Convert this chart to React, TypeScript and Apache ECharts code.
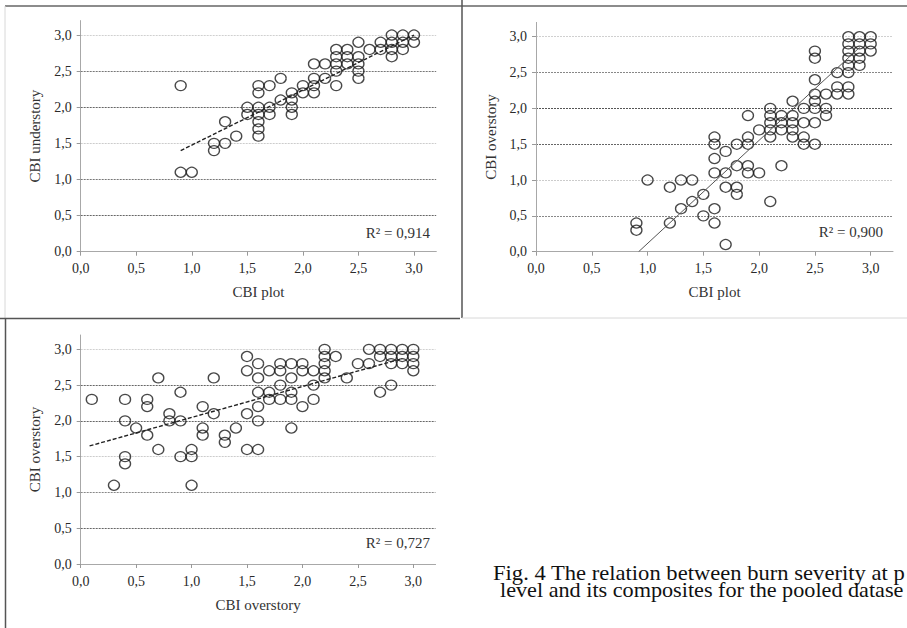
import { useEffect, useRef } from "react";
import * as echarts from "echarts";

const TICKS = [0, 0.5, 1, 1.5, 2, 2.5, 3];
const AXIS_MAX = 3.2;

// Panel 1: CBI plot (x) vs CBI understory (y)
const plotVsUnderstory: number[][] = [
  [0.9, 2.3], [0.9, 1.1], [1.0, 1.1], [1.2, 1.5], [1.2, 1.4], [1.3, 1.8], [1.3, 1.5], [1.4, 1.6],
  [1.5, 2.0], [1.5, 1.9], [1.6, 2.3], [1.6, 2.2], [1.6, 2.0], [1.6, 1.9], [1.6, 1.8], [1.6, 1.7],
  [1.6, 1.6], [1.7, 2.3], [1.7, 2.0], [1.7, 1.9], [1.8, 2.4], [1.8, 2.1], [1.9, 2.2], [1.9, 2.1],
  [1.9, 2.0], [1.9, 1.9], [2.0, 2.3], [2.0, 2.2], [2.1, 2.6], [2.1, 2.4], [2.1, 2.3], [2.1, 2.2],
  [2.2, 2.6], [2.2, 2.4], [2.3, 2.8], [2.3, 2.7], [2.3, 2.6], [2.3, 2.5], [2.3, 2.3], [2.4, 2.8],
  [2.4, 2.7], [2.4, 2.6], [2.5, 2.9], [2.5, 2.7], [2.5, 2.6], [2.5, 2.5], [2.5, 2.4], [2.6, 2.8],
  [2.7, 2.9], [2.7, 2.8], [2.8, 3.0], [2.8, 2.9], [2.8, 2.8], [2.8, 2.7], [2.9, 3.0], [2.9, 2.9],
  [2.9, 2.8], [3.0, 3.0], [3.0, 2.9],
];
const trendUnderstory: number[][] = [[0.9, 1.4], [3.0, 3.0]];

// Panel 2: CBI plot (x) vs CBI overstory (y)
const plotVsOverstory: number[][] = [
  [0.9, 0.4], [0.9, 0.3], [1.0, 1.0], [1.2, 0.9], [1.2, 0.4], [1.3, 1.0], [1.3, 0.6], [1.4, 1.0],
  [1.4, 0.7], [1.5, 0.8], [1.5, 0.5], [1.6, 1.6], [1.6, 1.5], [1.6, 1.3], [1.6, 1.1], [1.6, 0.6],
  [1.6, 0.4], [1.7, 1.4], [1.7, 1.1], [1.7, 0.9], [1.7, 0.1], [1.8, 1.5], [1.8, 1.2], [1.8, 0.9],
  [1.8, 0.8], [1.9, 1.9], [1.9, 1.6], [1.9, 1.5], [1.9, 1.2], [1.9, 1.1], [2.0, 1.7], [2.0, 1.1],
  [2.1, 2.0], [2.1, 1.9], [2.1, 1.8], [2.1, 1.7], [2.1, 1.6], [2.1, 0.7], [2.2, 1.9], [2.2, 1.8],
  [2.2, 1.7], [2.2, 1.2], [2.3, 2.1], [2.3, 1.9], [2.3, 1.8], [2.3, 1.7], [2.3, 1.6], [2.4, 2.0],
  [2.4, 1.8], [2.4, 1.6], [2.4, 1.5], [2.5, 2.8], [2.5, 2.7], [2.5, 2.4], [2.5, 2.2], [2.5, 2.1],
  [2.5, 2.0], [2.5, 1.8], [2.5, 1.5], [2.6, 2.2], [2.6, 2.0], [2.6, 1.9], [2.7, 2.5], [2.7, 2.3],
  [2.7, 2.2], [2.8, 3.0], [2.8, 2.9], [2.8, 2.8], [2.8, 2.7], [2.8, 2.6], [2.8, 2.5], [2.8, 2.3],
  [2.8, 2.2], [2.9, 3.0], [2.9, 2.9], [2.9, 2.8], [2.9, 2.7], [2.9, 2.6], [3.0, 3.0], [3.0, 2.9],
  [3.0, 2.8],
];
const trendOverstory: number[][] = [[0.92, 0.0], [2.9, 2.85]];

// Panel 3: CBI overstory (x) vs CBI overstory (y)
const overstoryVsOverstory: number[][] = [
  [0.1, 2.3], [0.3, 1.1], [0.4, 2.3], [0.4, 2.0], [0.4, 1.5], [0.4, 1.4], [0.5, 1.9], [0.6, 2.3],
  [0.6, 2.2], [0.6, 1.8], [0.7, 2.6], [0.7, 1.6], [0.8, 2.1], [0.8, 2.0], [0.9, 2.4], [0.9, 2.0],
  [0.9, 1.5], [1.0, 1.6], [1.0, 1.5], [1.0, 1.1], [1.1, 2.2], [1.1, 1.9], [1.1, 1.8], [1.2, 2.6],
  [1.2, 2.1], [1.3, 1.8], [1.3, 1.7], [1.4, 1.9], [1.5, 2.9], [1.5, 2.7], [1.5, 2.1], [1.5, 1.6],
  [1.6, 2.8], [1.6, 2.6], [1.6, 2.4], [1.6, 2.2], [1.6, 2.0], [1.6, 1.6], [1.7, 2.7], [1.7, 2.4],
  [1.7, 2.3], [1.8, 2.8], [1.8, 2.7], [1.8, 2.5], [1.8, 2.3], [1.9, 2.8], [1.9, 2.6], [1.9, 2.4],
  [1.9, 2.3], [1.9, 1.9], [2.0, 2.8], [2.0, 2.7], [2.0, 2.2], [2.1, 2.7], [2.1, 2.5], [2.1, 2.3],
  [2.2, 3.0], [2.2, 2.9], [2.2, 2.8], [2.2, 2.7], [2.2, 2.6], [2.3, 2.9], [2.4, 2.6], [2.5, 2.8],
  [2.6, 3.0], [2.6, 2.8], [2.7, 3.0], [2.7, 2.9], [2.7, 2.4], [2.8, 3.0], [2.8, 2.9], [2.8, 2.8],
  [2.8, 2.5], [2.9, 3.0], [2.9, 2.9], [2.9, 2.8], [3.0, 3.0], [3.0, 2.9], [3.0, 2.8], [3.0, 2.7],
];
const trendOverOver: number[][] = [[0.08, 1.65], [2.9, 2.87]];

const X_TITLES = ["CBI plot", "CBI plot", "CBI overstory"];
const Y_TITLES = ["CBI understory", "CBI overstory", "CBI overstory"];
const R2_LABELS = ["R² = 0,914", "R² = 0,900", "R² = 0,727"];
const CAPTION = [
  "Fig. 4 The relation between burn severity at p",
  "level and its composites for the pooled datase",
];

const SERIF = "'Liberation Serif', 'Times New Roman', serif";
const fmt = (v: number) => v.toFixed(1).replace(".", ",");

const GRIDS = [
  { left: 80.7, top: 20.6, width: 355.5, height: 231.1 },
  { left: 536, top: 22.4, width: 357, height: 229.3 },
  { left: 80.7, top: 335, width: 354.8, height: 229 },
];
const SPLIT_COLORS = [
  ["#777", "#666", "#777", "#ccc", "#666", "#777", "#d0d0d0"],
  ["#777", "#888", "#ccc", "#666", "#555", "#888", "#d0d0d0"],
  ["#777", "#666", "#888", "#ccc", "#666", "#666", "#d0d0d0"],
];
const R2_POS = [
  [430, 233],
  [883, 232],
  [430, 543],
];

export default function App() {
  const ref = useRef<HTMLDivElement>(null);
  useEffect(() => {
    if (!ref.current) return;
    const chart = echarts.init(ref.current, null, { renderer: "svg" });
    const xAxes = X_TITLES.map((name, i) => ({
      type: "value",
      gridIndex: i,
      min: 0,
      max: AXIS_MAX,
      interval: 0.5,
      name,
      nameLocation: "middle",
      nameGap: 33,
      nameTextStyle: { fontFamily: SERIF, fontSize: 15, color: "#333" },
      axisLine: { lineStyle: { color: "#a8a8a8", width: 1 } },
      axisTick: { show: true, length: 4, customValues: TICKS, lineStyle: { color: "#999" } },
      axisLabel: {
        customValues: TICKS,
        formatter: fmt,
        fontFamily: SERIF,
        fontSize: 14,
        color: "#2a2a2a",
        margin: 10,
      },
      splitLine: { show: false },
    }));
    const yAxes = Y_TITLES.map((name, i) => ({
      type: "value",
      gridIndex: i,
      min: 0,
      max: AXIS_MAX,
      interval: 0.5,
      name,
      nameLocation: "middle",
      nameGap: 38,
      nameTextStyle: { fontFamily: SERIF, fontSize: 15, color: "#333" },
      axisLine: { show: true, lineStyle: { color: "#a8a8a8", width: 1 } },
      axisTick: { show: true, length: 4, customValues: TICKS, lineStyle: { color: "#999" } },
      axisLabel: {
        customValues: TICKS,
        formatter: fmt,
        fontFamily: SERIF,
        fontSize: 14,
        color: "#2a2a2a",
        margin: 9,
      },
      splitLine: {
        show: true,
        lineStyle: { color: SPLIT_COLORS[i], type: [2, 1], width: 1 },
      },
    }));
    const scatter = (data: number[][], i: number) => ({
      type: "scatter",
      xAxisIndex: i,
      yAxisIndex: i,
      data,
      symbol: "circle",
      symbolSize: [11, 10],
      itemStyle: { color: "rgba(0,0,0,0)", borderColor: "#1a1a1a", borderWidth: 1.3 },
      z: 3,
    });
    const trend = (data: number[][], i: number, dashed: boolean) => ({
      type: "line",
      xAxisIndex: i,
      yAxisIndex: i,
      data,
      showSymbol: false,
      symbol: "none",
      lineStyle: {
        color: dashed ? "#222" : "#555",
        width: dashed ? 1.4 : 1,
        type: dashed ? [4, 2] : "solid",
      },
      z: 4,
    });
    const borders = [
      { x1: 5, y1: 6, x2: 907, y2: 6, c: "#666", w: 1.5 },
      { x1: 5, y1: 6, x2: 5, y2: 318, c: "#d8d8d8", w: 1 },
      { x1: 462, y1: 0, x2: 462, y2: 318, c: "#555", w: 1.5 },
      { x1: 0, y1: 318.5, x2: 460, y2: 318.5, c: "#555", w: 1.5 },
      { x1: 462, y1: 318, x2: 907, y2: 318, c: "#d8d8d8", w: 1 },
      { x1: 5.5, y1: 318, x2: 5.5, y2: 628, c: "#555", w: 1.5 },
    ];
    chart.setOption({
      animation: false,
      backgroundColor: "#fff",
      grid: GRIDS,
      xAxis: xAxes,
      yAxis: yAxes,
      series: [
        scatter(plotVsUnderstory, 0),
        trend(trendUnderstory, 0, true),
        scatter(plotVsOverstory, 1),
        trend(trendOverstory, 1, false),
        scatter(overstoryVsOverstory, 2),
        trend(trendOverOver, 2, true),
      ],
      graphic: [
        ...borders.map((b) => ({
          type: "line",
          shape: { x1: b.x1, y1: b.y1, x2: b.x2, y2: b.y2 },
          style: { stroke: b.c, lineWidth: b.w },
          silent: true,
        })),
        ...R2_LABELS.map((t, i) => ({
          type: "text",
          x: R2_POS[i][0],
          y: R2_POS[i][1],
          style: {
            text: t,
            fill: "#333",
            fontFamily: SERIF,
            fontSize: 15,
            align: "right",
            verticalAlign: "middle",
          },
          z: 10,
        })),
        {
          type: "text",
          x: 493,
          y: 573,
          scaleX: 1.13,
          style: { text: CAPTION[0], fill: "#111", fontFamily: SERIF, fontSize: 20, verticalAlign: "middle" },
        },
        {
          type: "text",
          x: 500,
          y: 590,
          scaleX: 1.11,
          style: { text: CAPTION[1], fill: "#111", fontFamily: SERIF, fontSize: 20, verticalAlign: "middle" },
        },
      ],
    });
    return () => chart.dispose();
  }, []);
  return (
    <div
      ref={ref}
      style={{ position: "absolute", left: 0, top: 0, width: 907, height: 628, overflow: "hidden" }}
    />
  );
}
